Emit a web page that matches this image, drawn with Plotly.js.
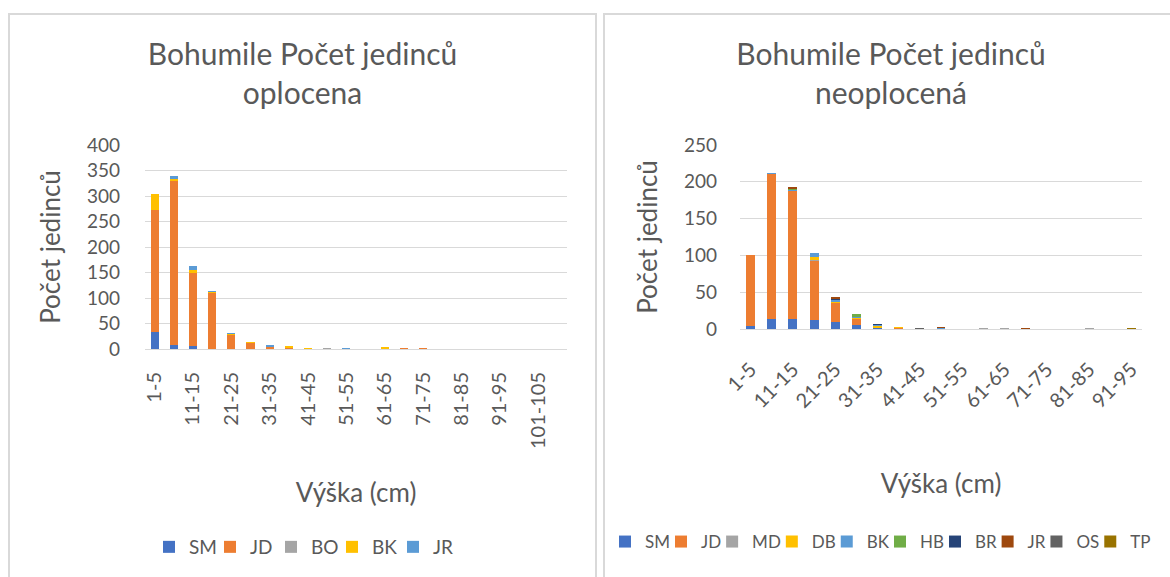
<!DOCTYPE html>
<html>
<head>
<meta charset="utf-8">
<script src="https://cdn.plot.ly/plotly-3.0.1.min.js"></script>
<style>
  html, body { margin:0; padding:0; width:1170px; height:577px; overflow:hidden; background:#fff; }
  .panel { position:absolute; border:2px solid #d9d9d9; border-bottom:none; background:#fff; }
  #left { left:8px; top:13px; width:585px; height:564px; }
  #right { left:603px; top:13px; width:572px; height:564px; }
</style>
</head>
<body>
<div id="left" class="panel"></div>
<div id="right" class="panel"></div>
<script>
// ---------- Left chart: Bohumile oplocena ----------
const catsLeft = ['1-5','6-10','11-15','16-20','21-25','26-30','31-35','36-40','41-45','46-50','51-55','56-60','61-65','66-70','71-75','76-80','81-85','86-90','91-95','96-100','101-105','106-110'];
const SM_L = [33, 7, 5, 0, 0, 0, 0, 0, 0, 0, 0, 0, 0, 0, 0, 0, 0, 0, 0, 0, 0, 0];
const JD_L = [240, 322, 144, 109, 27, 11, 3, 1, 0, 0, 0, 0, 0, 1, 1, 0, 0, 0, 0, 0, 0, 0];
const BO_L = [0, 1, 0, 0, 0, 0, 1, 0, 0, 1, 0, 0, 0, 0, 0, 0, 0, 0, 0, 0, 0, 0];
const BK_L = [31, 3, 6, 2, 3, 3, 0, 4, 1, 1, 0, 0, 3, 0, 0, 0, 0, 0, 0, 0, 0, 0];
const JR_L = [0, 6, 7, 3, 1, 0, 3, 0, 0, 0, 2, 0, 1, 0, 0, 0, 0, 0, 0, 0, 0, 0];
const seriesLeft = [
  {name:'SM', y:SM_L, color:'#4472C4'},
  {name:'JD', y:JD_L, color:'#ED7D31'},
  {name:'BO', y:BO_L, color:'#A5A5A5'},
  {name:'BK', y:BK_L, color:'#FFC000'},
  {name:'JR', y:JR_L, color:'#5B9BD5'}
];
const tickLeft = catsLeft.filter((c, i) => i % 2 === 0);

// ---------- Right chart: Bohumile neoplocená ----------
const catsRight = ['1-5','6-10','11-15','16-20','21-25','26-30','31-35','36-40','41-45','46-50','51-55','56-60','61-65','66-70','71-75','76-80','81-85','86-90','91-95'];
const SM_R = [4, 14, 14, 12, 9, 6, 1, 0, 0, 0, 0, 0, 0, 0, 0, 0, 0, 0, 0];
const JD_R = [96, 197, 173, 81, 26, 7, 0, 1, 0, 0, 0, 0, 0, 0, 0, 0, 0, 0, 0];
const MD_R = [0, 0, 1, 1, 0, 1, 1, 0, 0, 0, 0, 1, 1, 0, 0, 0, 1, 0, 0];
const DB_R = [0, 0, 0, 4, 2, 1, 2, 2, 0, 0, 0, 0, 0, 0, 0, 0, 0, 0, 0];
const BK_R = [0, 1, 1, 5, 2, 1, 1, 0, 0, 1, 0, 0, 0, 0, 0, 0, 1, 0, 0];
const HB_R = [0, 0, 1, 0, 0, 4, 0, 0, 0, 0, 0, 0, 0, 0, 0, 0, 0, 0, 0];
const BR_R = [0, 0, 0, 0, 2, 0, 2, 0, 0, 0, 0, 0, 0, 0, 0, 0, 0, 0, 0];
const JR_R = [0, 0, 3, 0, 2, 0, 0, 0, 0, 2, 0, 0, 0, 1, 0, 0, 0, 0, 0];
const OS_R = [0, 0, 0, 0, 0, 0, 0, 0, 2, 0, 0, 0, 0, 0, 0, 0, 0, 0, 0];
const TP_R = [0, 0, 0, 0, 0, 0, 0, 0, 0, 0, 0, 0, 0, 0, 0, 0, 0, 0, 1];
const seriesRight = [
  {name:'SM', y:SM_R, color:'#4472C4'},
  {name:'JD', y:JD_R, color:'#ED7D31'},
  {name:'MD', y:MD_R, color:'#A5A5A5'},
  {name:'DB', y:DB_R, color:'#FFC000'},
  {name:'BK', y:BK_R, color:'#5B9BD5'},
  {name:'HB', y:HB_R, color:'#70AD47'},
  {name:'BR', y:BR_R, color:'#264478'},
  {name:'JR', y:JR_R, color:'#9E480E'},
  {name:'OS', y:OS_R, color:'#636363'},
  {name:'TP', y:TP_R, color:'#997300'}
];
const tickRight = catsRight.filter((c, i) => i % 2 === 0);

const FONT = 'Lato, "Open Sans", sans-serif';
const TXT = '#595959';
const GRID = '#d9d9d9';
const H = 562;

function traces(cats, series, perItemLegend) {
  return series.map((s, i) => {
    const t = {
      type:'bar', name:s.name, x:cats, y:s.y,
      marker:{color:s.color, line:{width:0}},
      hoverinfo:'x+y+name'
    };
    if (perItemLegend) t.legend = i === 0 ? 'legend' : 'legend' + (i + 1);
    return t;
  });
}

function legendObj(x, y, W, size, entry) {
  return {orientation:'h', xref:'container', yref:'container', x:x / W, y:1 - y / H,
    xanchor:'left', yanchor:'middle', font:{size:size, color:TXT, family:FONT},
    traceorder:'normal', bgcolor:'rgba(0,0,0,0)', entrywidth:entry, entrywidthmode:'pixels',
    itemclick:false, itemdoubleclick:false};
}

function layout(opts) {
  return {
    width: opts.W, height: H,
    margin: opts.margin,
    paper_bgcolor:'#fff', plot_bgcolor:'#fff',
    barmode:'stack', bargap:0.58,
    font:{family:FONT, color:TXT},
    title:{text:opts.title, font:{family:FONT, size:30, color:TXT}, x:0.5, xanchor:'center', xref:'container', y:1-50/H, yref:'container', yanchor:'top'},
    xaxis:{
      type:'category', categoryorder:'array', categoryarray:opts.cats,
      tickmode:'array', tickvals:opts.ticks, ticktext:opts.ticks,
      tickangle:opts.tickangle, tickfont:{size:20, color:TXT, family:FONT},
      ticks:'', ticklabelstandoff:opts.xstand,
      showline:true, linecolor:GRID, linewidth:1, showgrid:false, zeroline:false,
      title:{text:'Výška (cm)', font:{size:26, color:TXT, family:FONT}, standoff:opts.xtitleStand},
      automargin:false
    },
    yaxis:{
      range:opts.yrange, dtick:50, tick0:0,
      tickfont:{size:19, color:TXT, family:FONT},
      ticks:'', ticklabelstandoff:opts.ystand,
      showgrid:true, gridcolor:GRID, gridwidth:1, zeroline:false, showline:false,
      title:{text:'Počet jedinců', font:{size:26, color:TXT, family:FONT}, standoff:opts.ytitleStand},
      automargin:false
    },
    showlegend:true
  };
}

// Left chart
const layoutLeft = layout({
  W:585, cats:catsLeft, ticks:tickLeft, tickangle:-90, xstand:14, ystand:24,
  margin:{l:135, r:28, t:130, b:228}, yrange:[0,400],
  title:'Bohumile Počet jedinců<br>oplocena',
  xtitleStand:35, ytitleStand:18
});
layoutLeft.legend = legendObj(139, 532, 585, 19, 16);
Plotly.newPlot('left', traces(catsLeft, seriesLeft, false), layoutLeft, {displayModeBar:false, staticPlot:true});

// Right chart: one legend box per entry, laid out in a single row like the reference
const LEG_R_FONT = 17;
const ctx = document.createElement('canvas').getContext('2d');
ctx.font = LEG_R_FONT + 'px Lato';
const layoutRight = layout({
  W:572, cats:catsRight, ticks:tickRight, tickangle:-45, xstand:20, ystand:22,
  margin:{l:135, r:35, t:130, b:248}, yrange:[0,250],
  title:'Bohumile Počet jedinců<br>neoplocená',
  xtitleStand:63, ytitleStand:18
});
let legX = 0;
seriesRight.forEach((s, i) => {
  layoutRight[i === 0 ? 'legend' : 'legend' + (i + 1)] = legendObj(legX, 527, 572, LEG_R_FONT, 0);
  legX += 26 + ctx.measureText(s.name).width + 5;
});
Plotly.newPlot('right', traces(catsRight, seriesRight, true), layoutRight, {displayModeBar:false, staticPlot:true});
</script>
</body>
</html>
